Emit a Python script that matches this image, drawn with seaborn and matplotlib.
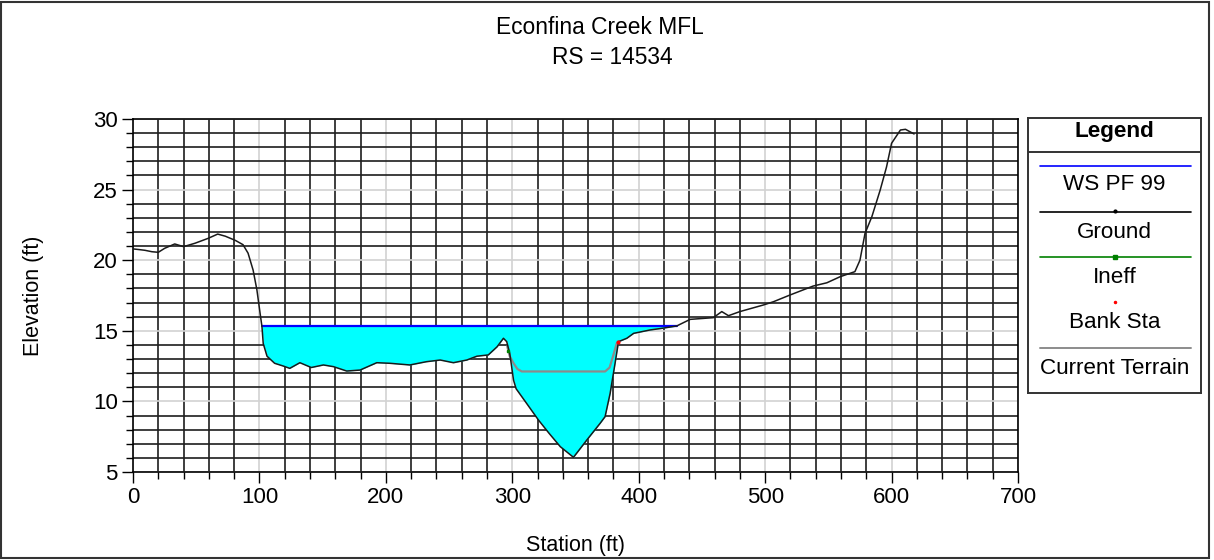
import numpy as np
import pandas as pd
import matplotlib
matplotlib.use("Agg")
import matplotlib.pyplot as plt
from matplotlib.patches import Rectangle
import seaborn as sns

# ---------------- data ----------------
ground_sta = [0, 5, 9.5, 15, 20, 25, 33, 40, 49, 59.5, 67, 73, 81, 87, 91, 95, 98,
              100.5, 102, 103, 106, 112, 119, 124, 132, 141, 150.6, 158.6, 169,
              179.6, 192.8, 203, 219, 232, 243, 253.4, 264, 272, 281, 288, 293,
              295.6, 298, 301, 303, 311, 320.7, 329, 338, 348.4, 359, 369.5,
              373.4, 377.4, 381.3, 384, 390.6, 396, 409, 418, 430, 440.7, 459,
              465.7, 471, 480, 498.7, 506.6, 519.8, 538, 548.8, 559.3, 571, 575,
              579, 584.4, 591, 596, 600, 607, 611, 617.8]
ground_elev = [20.8, 20.75, 20.7, 20.6, 20.56, 20.84, 21.15, 20.96, 21.2, 21.55,
               21.85, 21.7, 21.4, 21.1, 20.5, 19.3, 17.9, 16.26, 15.3, 14.1, 13.2,
               12.7, 12.5, 12.34, 12.74, 12.4, 12.58, 12.46, 12.15, 12.22, 12.74,
               12.7, 12.58, 12.81, 12.93, 12.74, 12.93, 13.2, 13.29, 13.87, 14.47,
               14.23, 13.4, 11.5, 10.9, 9.9, 8.68, 7.75, 6.79, 6.04, 7.27, 8.45,
               8.92, 10.57, 12.7, 14.23, 14.47, 14.82, 15.06, 15.17, 15.34, 15.81,
               15.93, 16.36, 16.07, 16.36, 16.83, 17.06, 17.54, 18.17, 18.4, 18.83,
               19.19, 20.0, 21.9, 23.08, 24.97, 26.6, 28.28, 29.22, 29.27, 28.94]

ws_elev = 15.34
ws_sta = [102.0, 430.0]

terrain_sta = [296, 298, 301, 304, 307.5, 373.4, 377, 380, 382.6, 384]
terrain_elev = [13.9, 13.2, 12.7, 12.3, 12.12, 12.12, 12.4, 13.3, 14.1, 14.23]

bank_sta = [384.0]
bank_elev = [14.23]
ineff_sta = [297.0]
ineff_elev = [13.6]

legend_labels = ["WS PF 99", "Ground", "Ineff", "Bank Sta", "Current Terrain"]
x_ticks = [0, 100, 200, 300, 400, 500, 600, 700]
y_ticks = [5, 10, 15, 20, 25, 30]

# ---------------- style ----------------
sns.set_theme(style="white")
plt.rcParams["font.family"] = ["Liberation Sans", "DejaVu Sans"]

W, H = 1214, 560
fig = plt.figure(figsize=(W / 100, H / 100), dpi=100)
ax = fig.add_axes([133 / W, 1 - 472 / H, (1018 - 133) / W, (472 - 119) / H])

ground = pd.DataFrame({"Station": ground_sta, "Elevation": ground_elev})
g_sta = np.array(ground_sta)
g_el = np.array(ground_elev)

# water fill
ax.fill_between(g_sta, g_el, ws_elev, where=g_el < ws_elev, interpolate=True,
                color="#00ffff", linewidth=0, zorder=2)
# water surface
sns.lineplot(x=ws_sta, y=[ws_elev, ws_elev], ax=ax, color="#0000ff", linewidth=1.6,
             zorder=3, estimator=None)
# current terrain
sns.lineplot(x=terrain_sta, y=terrain_elev, ax=ax, color="#8c8c8c", linewidth=1.6,
             zorder=3, sort=False, estimator=None)
# ground
sns.lineplot(data=ground, x="Station", y="Elevation", ax=ax, color="#1a1a1a",
             linewidth=1.1, zorder=4, sort=False, estimator=None)
ax.plot(bank_sta, bank_elev, "o", color="red", markersize=2, zorder=5)
ax.plot(ineff_sta, ineff_elev, "s", color="green", markersize=2, zorder=5)

ax.set_xlim(0, 700)
ax.set_ylim(5, 30)
ax.set_xticks(x_ticks)
ax.set_yticks(y_ticks)
ax.set_xticks(np.arange(0, 701, 20), minor=True)
ax.set_yticks(np.arange(5, 31, 1), minor=True)
ax.set_axisbelow(True)
ax.grid(which="minor", color="#1e1e1e", linewidth=1.2)
ax.grid(which="major", color="#d2d2d2", linewidth=1.2)
ax.tick_params(which="major", direction="out", length=8, width=1, color="black",
               labelsize=16, left=True, bottom=True, pad=3)
ax.tick_params(which="minor", direction="out", length=5, width=1, color="black",
               left=True, bottom=True)
for s in ax.spines.values():
    s.set_color("black")
    s.set_linewidth(1.2)
ax.set_xlabel("Station (ft)", fontsize=15.5, labelpad=19, color="black")
ax.set_ylabel("Elevation (ft)", fontsize=15.5, labelpad=35, color="black")
for lab in ax.get_xticklabels() + ax.get_yticklabels():
    lab.set_color("black")

# titles
fig.text(600 / W, 1 - 27 / H, "Econfina Creek MFL", ha="center", va="center",
         fontsize=16.4, color="black")
fig.text(612 / W, 1 - 57 / H, "RS = 14534", ha="center", va="center",
         fontsize=16.4, color="black")

# legend box
lx0, lx1, ly0, ly1 = 1028, 1201, 118, 393
lax = fig.add_axes([lx0 / W, 1 - ly1 / H, (lx1 - lx0) / W, (ly1 - ly0) / H])
lax.set_xlim(lx0, lx1)
lax.set_ylim(ly1, ly0)
lax.set_xticks([])
lax.set_yticks([])
for s in lax.spines.values():
    s.set_color("#333333")
    s.set_linewidth(1.4)
lax.set_facecolor("white")
xc = (lx0 + lx1) / 2
fs = 16.2
lax.text(xc, 132, "Legend", ha="center", va="center", fontsize=fs,
         fontweight="bold", color="black")
lax.plot([lx0, lx1], [151.7, 151.7], color="#333333", linewidth=1.4)
lx_a, lx_b = 1040, 1191
lax.plot([lx_a, lx_b], [165.7, 165.7], color="#0000ff", linewidth=1.2)
lax.text(xc, 185, legend_labels[0], ha="center", va="center", fontsize=fs, color="black")
lax.plot([lx_a, lx_b], [211.7, 211.7], color="black", linewidth=1.2)
lax.plot([xc], [211.2], "o", color="black", markersize=2)
lax.text(xc, 232, legend_labels[1], ha="center", va="center", fontsize=fs, color="black")
lax.plot([lx_a, lx_b], [256.7, 256.7], color="green", linewidth=1.2)
lax.plot([xc], [256.7], "s", color="green", markersize=2.5)
lax.text(xc, 277.5, legend_labels[2], ha="center", va="center", fontsize=fs, color="black")
lax.plot([xc], [301.7], "o", color="red", markersize=1.5)
lax.text(xc, 322.5, legend_labels[3], ha="center", va="center", fontsize=fs, color="black")
lax.plot([lx_a, lx_b], [348.3, 348.3], color="#8c8c8c", linewidth=1.4)
lax.text(xc, 368.5, legend_labels[4], ha="center", va="center", fontsize=fs, color="black")

# figure border
fig.patches.append(Rectangle((1.5 / W, 2.5 / H), (1209 - 1.5) / W, (558 - 2.5) / H,
                             transform=fig.transFigure, fill=False,
                             edgecolor="#333333", linewidth=1.5))

fig.savefig("out.png", dpi=100, facecolor="white")
